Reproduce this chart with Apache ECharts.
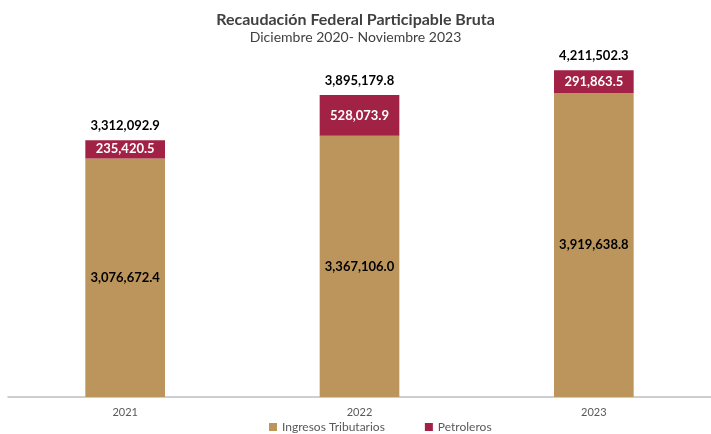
<!DOCTYPE html>
<html>
<head>
<meta charset="utf-8">
<script src="https://cdn.jsdelivr.net/npm/echarts@6/dist/echarts.min.js"></script>
<style>
  html, body { margin: 0; padding: 0; background: #fff; }
  #chart { width: 711px; height: 434px; }
</style>
</head>
<body>
<div id="chart"></div>
<script>
const years = ["2021", "2022", "2023"];
const tributarios = [3076672.4, 3367106.0, 3919638.8];
const petroleros = [235420.5, 528073.9, 291863.5];
const totales = [3312092.9, 3895179.8, 4211502.3];

const fmt = (v) => v.toLocaleString("en-US", { minimumFractionDigits: 1, maximumFractionDigits: 1 });
const font = "Lato";

var myChart = echarts.init(document.getElementById("chart"));
myChart.setOption({
  textStyle: { fontFamily: font },
  title: {
    text: "Recaudación Federal Participable Bruta",
    subtext: "Diciembre 2020- Noviembre 2023",
    left: "center",
    top: 7,
    itemGap: 2,
    textStyle: { fontSize: 16, fontWeight: "bold", color: "#404040", fontFamily: font },
    subtextStyle: { fontSize: 14, color: "#404040", fontFamily: font },
  },
  legend: {
    data: ["Ingresos Tributarios", "Petroleros"],
    top: 416,
    left: 264,
    itemWidth: 8,
    itemHeight: 8,
    itemGap: 40,
    icon: "rect",
    textStyle: { fontSize: 12, color: "#595959", fontFamily: font },
  },
  grid: {
    left: 8,
    right: 0,
    top: 48,
    bottom: 37,
  },
  xAxis: {
    type: "category",
    data: years,
    axisLine: { lineStyle: { color: "#bfbfbf", width: 1.5 } },
    axisTick: { show: false },
    axisLabel: { fontSize: 11, color: "#595959", margin: 10 },
  },
  yAxis: {
    type: "value",
    min: 0,
    max: 4500000,
    show: false,
    splitLine: { show: false },
  },
  series: [
    {
      name: "Ingresos Tributarios",
      type: "bar",
      stack: "Total",
      barWidth: "34%",
      data: tributarios,
      itemStyle: { color: "#BC955C" },
      label: {
        show: true,
        position: "inside",
        fontSize: 13,
        fontWeight: "bold",
        color: "#000",
        formatter: (p) => fmt(p.value),
      },
    },
    {
      name: "Petroleros",
      type: "bar",
      stack: "Total",
      data: petroleros,
      itemStyle: { color: "#A12244" },
      label: {
        show: true,
        position: "inside",
        fontSize: 13,
        fontWeight: "bold",
        color: "#fff",
        formatter: (p) => fmt(p.value),
      },
    },
    {
      name: "Total",
      type: "bar",
      stack: "Total",
      data: years.map(() => 0),
      itemStyle: { color: "transparent" },
      label: {
        show: true,
        position: "top",
        distance: 8,
        fontSize: 13,
        fontWeight: "bold",
        color: "#000",
        formatter: (p) => fmt(totales[p.dataIndex]),
      },
    },
  ],
});
</script>
</body>
</html>
